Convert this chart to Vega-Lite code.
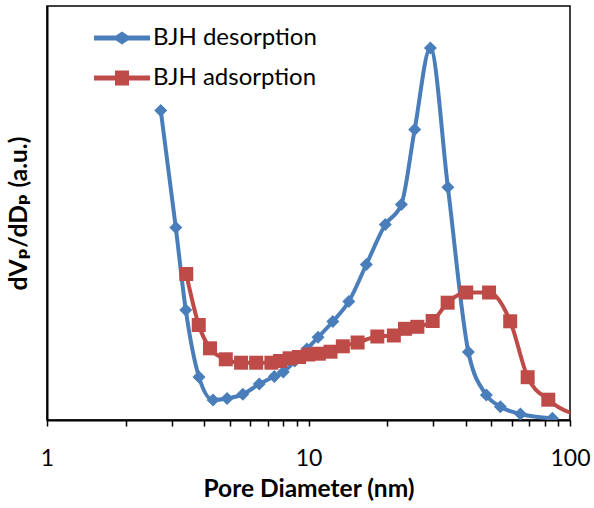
{
  "$schema": "https://vega.github.io/schema/vega-lite/v6.json",
  "width": 523,
  "height": 414,
  "autosize": {"type": "none"},
  "padding": {"left": 47, "top": 6, "right": 24, "bottom": 88},
  "background": "white",
  "config": {
    "view": {"stroke": "black", "strokeWidth": 1.5},
    "font": "Lato, DejaVu Sans"
  },
  "datasets": {
    "pts": [
      {"series": "BJH desorption", "d": 2.723, "v": 309.5},
      {"series": "BJH desorption", "d": 3.108, "v": 192.5},
      {"series": "BJH desorption", "d": 3.394, "v": 110},
      {"series": "BJH desorption", "d": 3.812, "v": 43},
      {"series": "BJH desorption", "d": 4.315, "v": 20},
      {"series": "BJH desorption", "d": 4.882, "v": 21.5},
      {"series": "BJH desorption", "d": 5.607, "v": 25.7},
      {"series": "BJH desorption", "d": 6.483, "v": 36},
      {"series": "BJH desorption", "d": 7.4, "v": 43.5},
      {"series": "BJH desorption", "d": 8.01, "v": 48},
      {"series": "BJH desorption", "d": 8.862, "v": 59},
      {"series": "BJH desorption", "d": 9.851, "v": 71},
      {"series": "BJH desorption", "d": 10.88, "v": 82.7},
      {"series": "BJH desorption", "d": 12.39, "v": 98.5},
      {"series": "BJH desorption", "d": 14.26, "v": 118.5},
      {"series": "BJH desorption", "d": 16.64, "v": 155.5},
      {"series": "BJH desorption", "d": 19.67, "v": 195.5},
      {"series": "BJH desorption", "d": 22.65, "v": 215.5},
      {"series": "BJH desorption", "d": 25.47, "v": 290.5},
      {"series": "BJH desorption", "d": 29.24, "v": 372},
      {"series": "BJH desorption", "d": 34.12, "v": 232.7},
      {"series": "BJH desorption", "d": 40.87, "v": 68},
      {"series": "BJH desorption", "d": 47.88, "v": 25},
      {"series": "BJH desorption", "d": 54.17, "v": 13.3},
      {"series": "BJH desorption", "d": 64.62, "v": 6},
      {"series": "BJH desorption", "d": 85.65, "v": 1.7},
      {"series": "BJH adsorption", "d": 3.409, "v": 146},
      {"series": "BJH adsorption", "d": 3.805, "v": 95},
      {"series": "BJH adsorption", "d": 4.201, "v": 71.7},
      {"series": "BJH adsorption", "d": 4.827, "v": 60.7},
      {"series": "BJH adsorption", "d": 5.523, "v": 57.3},
      {"series": "BJH adsorption", "d": 6.308, "v": 57.3},
      {"series": "BJH adsorption", "d": 7.213, "v": 57.3},
      {"series": "BJH adsorption", "d": 7.788, "v": 59},
      {"series": "BJH adsorption", "d": 8.467, "v": 61.7},
      {"series": "BJH adsorption", "d": 9.198, "v": 63},
      {"series": "BJH adsorption", "d": 10.0, "v": 65.5},
      {"series": "BJH adsorption", "d": 10.95, "v": 66.3},
      {"series": "BJH adsorption", "d": 12.14, "v": 68.3},
      {"series": "BJH adsorption", "d": 13.53, "v": 73.7},
      {"series": "BJH adsorption", "d": 15.41, "v": 77.5},
      {"series": "BJH adsorption", "d": 18.33, "v": 83.5},
      {"series": "BJH adsorption", "d": 21.2, "v": 84.5},
      {"series": "BJH adsorption", "d": 23.39, "v": 91.2},
      {"series": "BJH adsorption", "d": 26.08, "v": 93.2},
      {"series": "BJH adsorption", "d": 29.84, "v": 99},
      {"series": "BJH adsorption", "d": 34.05, "v": 117.3},
      {"series": "BJH adsorption", "d": 40.09, "v": 127.5},
      {"series": "BJH adsorption", "d": 49.03, "v": 127.5},
      {"series": "BJH adsorption", "d": 59.06, "v": 98.7},
      {"series": "BJH adsorption", "d": 68.88, "v": 42.8},
      {"series": "BJH adsorption", "d": 82.6, "v": 20.3},
      {"series": "BJH adsorption", "d": 119.2, "v": 2}
    ]
  },
  "data": {"name": "pts"},
  "encoding": {
    "x": {
      "field": "d",
      "type": "quantitative",
      "scale": {"type": "log", "domain": [1, 100], "nice": false},
      "axis": {
        "values": [1, 2, 3, 4, 5, 6, 7, 8, 9, 10, 20, 30, 40, 50, 60, 70, 80, 90, 100],
        "labelExpr": "datum.value == 1 || datum.value == 10 || datum.value == 100 ? format(datum.value, 'd') : ''",
        "grid": false,
        "domainColor": "black",
        "domainWidth": 2,
        "tickColor": "black",
        "tickWidth": 1.5,
        "tickSize": 6,
        "labelFont": "Lato, DejaVu Sans",
        "labelFontSize": 23,
        "labelColor": "black",
        "labelPadding": 21,
        "labelFlush": false,
        "labelOverlap": false,
        "title": "Pore Diameter (nm)",
        "titleFont": "Lato, DejaVu Sans",
        "titleFontSize": 24.5,
        "titleFontWeight": "bold",
        "titleColor": "black",
        "titlePadding": 7
      }
    },
    "y": {
      "field": "v",
      "type": "quantitative",
      "scale": {"domain": [0, 414], "nice": false, "zero": false},
      "axis": {
        "labels": false,
        "ticks": false,
        "grid": false,
        "domainColor": "black",
        "domainWidth": 2,
        "title": "dVₚ/dDₚ (a.u.)",
        "titleFont": "Lato, DejaVu Sans",
        "titleFontSize": 24.5,
        "titleFontWeight": "bold",
        "titleColor": "black",
        "titlePadding": 16
      }
    },
    "color": {
      "field": "series",
      "type": "nominal",
      "scale": {"domain": ["BJH desorption", "BJH adsorption"], "range": ["#4A7EBB", "#BE4B48"]},
      "legend": {
        "title": null,
        "orient": "none",
        "legendX": 35,
        "legendY": 20,
        "padding": 0,
        "symbolSize": 400,
        "symbolOffset": 28,
        "labelOffset": 19,
        "rowPadding": 16,
        "labelFont": "Lato, DejaVu Sans",
        "labelFontSize": 24,
        "labelColor": "black",
        "labelLimit": 400,
        "symbolStrokeWidth": 0,
        "encode": {
          "symbols": {
            "update": {
              "shape": {"signal": "datum.value == 'BJH desorption' ? 'M-2.8,-0.25 L-0.6,-0.25 L0,-0.65 L0.6,-0.25 L2.8,-0.25 L2.8,0.25 L0.6,0.25 L0,0.65 L-0.6,0.25 L-2.8,0.25 Z' : 'M-2.8,-0.25 L-0.7,-0.25 L-0.7,-0.75 L0.7,-0.75 L0.7,-0.25 L2.8,-0.25 L2.8,0.25 L0.7,0.25 L0.7,0.75 L-0.7,0.75 L-0.7,0.25 L-2.8,0.25 Z'"},
              "fill": {"signal": "datum.value == 'BJH desorption' ? '#4A7EBB' : '#BE4B48'"},
              "fillOpacity": {"value": 1},
              "opacity": {"value": 1},
              "strokeWidth": {"value": 0}
            }
          }
        }
      }
    }
  },
  "layer": [
    {
      "transform": [{"filter": "datum.series == 'BJH desorption'"}],
      "mark": {"type": "line", "interpolate": "monotone", "strokeWidth": 4, "clip": true}
    },
    {
      "transform": [{"filter": "datum.series == 'BJH desorption'"}],
      "mark": {"type": "point", "shape": "diamond", "filled": true, "size": 169, "opacity": 1, "clip": true}
    },
    {
      "transform": [{"filter": "datum.series == 'BJH adsorption'"}],
      "mark": {"type": "line", "interpolate": "monotone", "strokeWidth": 4, "clip": true}
    },
    {
      "transform": [{"filter": "datum.series == 'BJH adsorption'"}],
      "mark": {"type": "point", "shape": "square", "filled": true, "size": 196, "opacity": 1, "clip": true}
    }
  ]
}
